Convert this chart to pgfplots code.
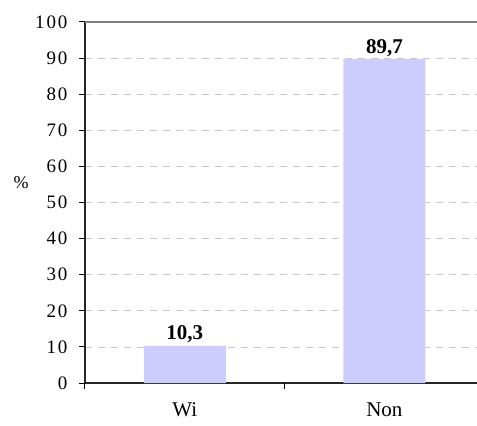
\documentclass[border=0pt]{standalone}
\usepackage{pgfplots}
\pgfplotsset{compat=1.18}
\usepackage{fontspec}
\setmainfont{Liberation Serif}
\newfontfamily\tickfont[LetterSpace=10]{Liberation Serif}
\definecolor{barc}{HTML}{CCCCFF}
\definecolor{gridc}{HTML}{C8C8C8}
\begin{document}
\begin{tikzpicture}
\begin{axis}[
  scale only axis,
  width=392pt, height=361pt,
  xmin=-0.5, xmax=1.464,
  ymin=0, ymax=100,
  ytick={0,10,...,100},
  xtick={0,1},
  xticklabels={Wi,Non},
  axis x line=bottom, axis y line=left,
  axis line style={-, black!85, line width=1.4pt},
  x axis line style={-},
  y axis line style={-},
  tick align=outside,
  ytick style={black, line width=1pt},
  xtick style={draw=none},
  major tick length=6pt,
  extra x ticks={-0.5,0.5},
  extra x tick labels={},
  extra x tick style={xtick style={draw=black, line width=1pt}, major tick length=6pt},
  ymajorgrids,
  grid style={gridc, dash pattern=on 7pt off 6pt, line width=0.8pt},
  /pgf/number format/assume math mode=true,
  yticklabel style={font=\tickfont\fontsize{19}{22}\selectfont, xshift=-8pt},
  xticklabel style={font=\fontsize{21}{24}\selectfont, yshift=-10pt},
  ylabel={\%},
  every axis y label/.style={at={(rel axis cs:0,0.554)}, anchor=center, xshift=-64pt, font=\fontsize{18}{20}\selectfont},
  clip=false,
]
\addplot[ybar, bar width=82pt, fill=barc, draw=none,
  nodes near coords={\textbf{\pgfmathprintnumber[fixed,fixed zerofill,precision=1,use comma]{\pgfplotspointmeta}}},
  nodes near coords style={font=\fontsize{21}{24}\selectfont, inner sep=0pt, anchor=base, yshift=6pt},
  point meta=explicit]
  coordinates {(0,10.3) [10.3] (1,89.7) [89.7]};
\draw[gray, line width=1.4pt] (axis cs:-0.5,100) -- (axis cs:1.464,100);
\end{axis}
\pgfresetboundingbox
\path (-85pt,-43pt) rectangle (392pt,383pt);
\end{tikzpicture}
\end{document}
